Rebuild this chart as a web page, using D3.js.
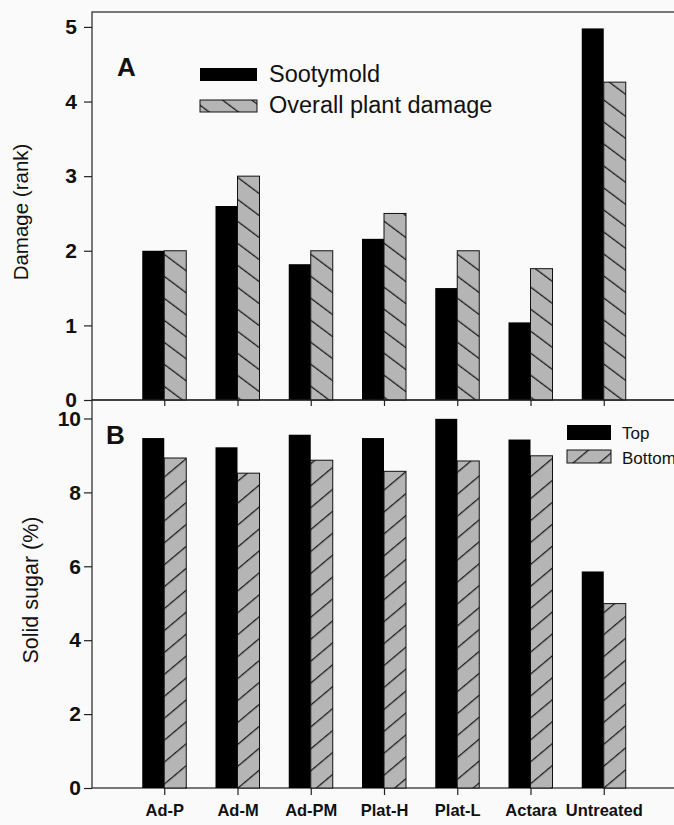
<!DOCTYPE html>
<html>
<head>
<meta charset="utf-8">
<script src="https://cdn.jsdelivr.net/npm/d3@7"></script>
<style>
  html, body { margin: 0; padding: 0; background: #fafafa; }
  svg { display: block; font-family: "Liberation Sans", Arial, sans-serif; }
</style>
</head>
<body>
<svg id="chart" width="674" height="825"></svg>
<script>
// ---- data ----
const categories = ["Ad-P", "Ad-M", "Ad-PM", "Plat-H", "Plat-L", "Actara", "Untreated"];
const sootymold = [2.0, 2.6, 1.82, 2.16, 1.5, 1.04, 4.98];
const overallDamage = [2.0, 3.0, 2.0, 2.5, 2.0, 1.76, 4.26];
const sugarTop = [9.47, 9.22, 9.56, 9.47, 9.99, 9.43, 5.86];
const sugarBottom = [8.93, 8.52, 8.87, 8.57, 8.85, 8.99, 4.99];
const ticksA = [0, 1, 2, 3, 4, 5];
const ticksB = [0, 2, 4, 6, 8, 10];
const legendA = ["Sootymold", "Overall plant damage"];
const legendB = ["Top", "Bottom"];

const svg = d3.select("#chart");
const FONT = '"Liberation Sans", Arial, sans-serif';
const GRAY = "#b5b5b5";

// patterns
const defs = svg.append("defs");
function hatch(id, spacing, angle) {
  const p = defs.append("pattern").attr("id", id)
    .attr("patternUnits", "userSpaceOnUse")
    .attr("width", spacing).attr("height", 10)
    .attr("patternTransform", `rotate(${angle})`);
  p.append("rect").attr("width", spacing).attr("height", 10).attr("fill", GRAY);
  p.append("line").attr("x1", 0.6).attr("y1", -1).attr("x2", 0.6).attr("y2", 11)
    .attr("stroke", "#1a1a1a").attr("stroke-width", 1.3);
}
hatch("hatchA", 17.6, -53.13);
hatch("hatchB", 16.8, 50);

const left = 92, right = 680;
const x = d3.scalePoint().domain(categories).range([91, 677]).padding(1);
const barW = 22;

// ---- Panel A ----
const yA = d3.scaleLinear().domain([0, 5.2]).range([400, 12]);
const gA = svg.append("g");
gA.append("rect").attr("x", left).attr("y", yA(5.2)).attr("width", right - left)
  .attr("height", yA(0) - yA(5.2)).attr("fill", "none").attr("stroke", "#222").attr("stroke-width", 1.2);

gA.selectAll("rect.s").data(sootymold).join("rect").attr("class", "s")
  .attr("x", (d, i) => x(categories[i]) - barW).attr("width", barW)
  .attr("y", d => yA(d)).attr("height", d => yA(0) - yA(d))
  .attr("fill", "#000");
gA.selectAll("rect.o").data(overallDamage).join("rect").attr("class", "o")
  .attr("x", (d, i) => x(categories[i])).attr("width", barW)
  .attr("y", d => yA(d)).attr("height", d => yA(0) - yA(d))
  .attr("fill", "url(#hatchA)").attr("stroke", "#111").attr("stroke-width", 1);

const axA = gA.append("g").attr("transform", `translate(${left},0)`)
  .call(d3.axisLeft(yA).tickValues(ticksA).tickFormat(d3.format("d")).tickSize(8).tickPadding(7));
axA.select(".domain").remove();
axA.selectAll("line").attr("stroke", "#222").attr("stroke-width", 1.2);
axA.selectAll("text").attr("font-family", FONT).attr("font-size", 21).attr("font-weight", "bold").attr("fill", "#111");

const bxA = gA.append("g").attr("transform", `translate(0,${yA(0)})`)
  .call(d3.axisBottom(x).tickSize(6).tickFormat(""));
bxA.select(".domain").remove();
bxA.selectAll("line").attr("stroke", "#222").attr("stroke-width", 1.2);

gA.append("text").attr("x", 117).attr("y", 76).text("A")
  .attr("font-family", FONT).attr("font-size", 26).attr("font-weight", "bold").attr("fill", "#111");

gA.append("text").attr("transform", "translate(28,212) rotate(-90)").attr("text-anchor", "middle")
  .text("Damage (rank)").attr("font-family", FONT).attr("font-size", 20.5).attr("fill", "#111");

const legA = gA.append("g");
legA.append("rect").attr("x", 200).attr("y", 68).attr("width", 57).attr("height", 13).attr("fill", "#000");
legA.append("rect").attr("x", 200).attr("y", 100).attr("width", 57).attr("height", 12)
  .attr("fill", "url(#hatchA)").attr("stroke", "#111").attr("stroke-width", 1);
legA.selectAll("text").data(legendA).join("text")
  .attr("x", 269).attr("y", (d, i) => 82 + i * 31).text(d => d)
  .attr("font-family", FONT).attr("font-size", 23.5).attr("fill", "#111");

// ---- Panel B ----
const yB = d3.scaleLinear().domain([0, 10.5]).range([788, 400]);
const gB = svg.append("g");
gB.append("rect").attr("x", left).attr("y", yB(10.5)).attr("width", right - left)
  .attr("height", yB(0) - yB(10.5)).attr("fill", "none").attr("stroke", "#222").attr("stroke-width", 1.2);

gB.selectAll("rect.t").data(sugarTop).join("rect").attr("class", "t")
  .attr("x", (d, i) => x(categories[i]) - barW).attr("width", barW)
  .attr("y", d => yB(d)).attr("height", d => yB(0) - yB(d))
  .attr("fill", "#000");
gB.selectAll("rect.b").data(sugarBottom).join("rect").attr("class", "b")
  .attr("x", (d, i) => x(categories[i])).attr("width", barW)
  .attr("y", d => yB(d)).attr("height", d => yB(0) - yB(d))
  .attr("fill", "url(#hatchB)").attr("stroke", "#111").attr("stroke-width", 1);

const axB = gB.append("g").attr("transform", `translate(${left},0)`)
  .call(d3.axisLeft(yB).tickValues(ticksB).tickFormat(d3.format("d")).tickSize(8).tickPadding(3));
axB.select(".domain").remove();
axB.selectAll("line").attr("stroke", "#222").attr("stroke-width", 1.2);
axB.selectAll("text").attr("font-family", FONT).attr("font-size", 21).attr("font-weight", "bold").attr("fill", "#111");

const bxB = gB.append("g").attr("transform", `translate(0,${yB(0)})`)
  .call(d3.axisBottom(x).tickSize(7).tickPadding(9));
bxB.select(".domain").remove();
bxB.selectAll("line").attr("stroke", "#222").attr("stroke-width", 1.2);
bxB.selectAll("text").attr("font-family", FONT).attr("font-size", 16.5).attr("font-weight", "bold").attr("fill", "#111");

gB.append("text").attr("x", 106).attr("y", 444).text("B")
  .attr("font-family", FONT).attr("font-size", 26).attr("font-weight", "bold").attr("fill", "#111");

gB.append("text").attr("transform", "translate(38,590) rotate(-90)").attr("text-anchor", "middle")
  .text("Solid sugar (%)").attr("font-family", FONT).attr("font-size", 21.5).attr("fill", "#111");

const legB = gB.append("g");
legB.append("rect").attr("x", 567).attr("y", 425).attr("width", 44).attr("height", 15).attr("fill", "#000");
legB.append("rect").attr("x", 567).attr("y", 450).attr("width", 44).attr("height", 13)
  .attr("fill", "url(#hatchB)").attr("stroke", "#111").attr("stroke-width", 1);
legB.selectAll("text").data(legendB).join("text")
  .attr("x", 622).attr("y", (d, i) => 439 + i * 25).text(d => d)
  .attr("font-family", FONT).attr("font-size", 17).attr("fill", "#111");
</script>
</body>
</html>
